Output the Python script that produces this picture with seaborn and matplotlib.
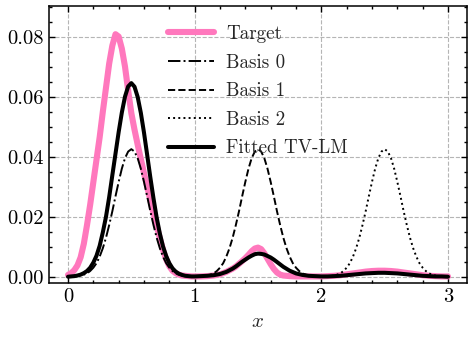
import numpy as np
import pandas as pd
import matplotlib
matplotlib.use("Agg")
import matplotlib.pyplot as plt
import seaborn as sns

# x positions where the target and fitted curves were read
x_vals = [0.000, 0.025, 0.050, 0.075, 0.100, 0.125, 0.150, 0.175, 0.200, 0.225,
          0.250, 0.275, 0.300, 0.325, 0.350, 0.375, 0.400, 0.425, 0.450, 0.475,
          0.500, 0.525, 0.550, 0.575, 0.600, 0.625, 0.650, 0.675, 0.700, 0.725,
          0.750, 0.775, 0.800, 0.825, 0.850, 0.875, 0.900, 0.925, 0.950, 0.975,
          1.000, 1.050, 1.100, 1.150, 1.200, 1.250, 1.300,
          1.325, 1.350, 1.375, 1.400, 1.425, 1.450, 1.475, 1.500, 1.525, 1.550,
          1.575, 1.600, 1.625, 1.650, 1.675,
          1.700, 1.750, 1.800, 1.850, 1.900, 1.950, 2.000, 2.050, 2.100, 2.150,
          2.200, 2.250, 2.300, 2.350, 2.400, 2.450, 2.500, 2.550, 2.600, 2.650,
          2.700, 2.750, 2.800, 2.850, 2.900, 2.950, 3.000]

target = [0.0006, 0.0012, 0.0022, 0.0038, 0.0065, 0.0110, 0.0172, 0.0240, 0.0315, 0.0390,
          0.0465, 0.0550, 0.0630, 0.0710, 0.0770, 0.0808, 0.0800, 0.0760, 0.0700, 0.0620,
          0.0545, 0.0490, 0.0440, 0.0392, 0.0345, 0.0300, 0.0255, 0.0212, 0.0170, 0.0128,
          0.0090, 0.0058, 0.0035, 0.0020, 0.0012, 0.0007, 0.0004, 0.0003, 0.0002, 0.0001,
          0.0001, 0.0001, 0.0002, 0.0004, 0.0008, 0.0016, 0.0027,
          0.0034, 0.0043, 0.0052, 0.0062, 0.0073, 0.0085, 0.0094, 0.0097, 0.0092, 0.0078,
          0.0060, 0.0042, 0.0026, 0.0014, 0.0007,
          0.0004, 0.0002, 0.0001, 0.0001, 0.0001, 0.0001, 0.0001, 0.0002, 0.0003, 0.0005,
          0.0008, 0.0011, 0.0014, 0.0017, 0.0019, 0.0020, 0.0020, 0.0019, 0.0017, 0.0014,
          0.0011, 0.0008, 0.0005, 0.0003, 0.0002, 0.0001, 0.0001]

fitted = [0.0000, 0.0001, 0.0002, 0.0004, 0.0007, 0.0012, 0.0019, 0.0030, 0.0047, 0.0070,
          0.0103, 0.0148, 0.0200, 0.0265, 0.0338, 0.0410, 0.0482, 0.0547, 0.0600, 0.0634,
          0.0645, 0.0633, 0.0599, 0.0546, 0.0480, 0.0406, 0.0331, 0.0261, 0.0197, 0.0144,
          0.0101, 0.0069, 0.0045, 0.0028, 0.0017, 0.0010, 0.0006, 0.0003, 0.0002, 0.0001,
          0.0001, 0.0002, 0.0003, 0.0005, 0.0009, 0.0016, 0.0027,
          0.0034, 0.0042, 0.0050, 0.0057, 0.0064, 0.0070, 0.0075, 0.0077, 0.0076, 0.0074,
          0.0069, 0.0064, 0.0057, 0.0049, 0.0041,
          0.0033, 0.0020, 0.0011, 0.0006, 0.0003, 0.0002, 0.0001, 0.0001, 0.0002, 0.0003,
          0.0005, 0.0007, 0.0009, 0.0011, 0.0012, 0.0013, 0.0013, 0.0012, 0.0011, 0.0009,
          0.0007, 0.0005, 0.0003, 0.0002, 0.0001, 0.0001, 0.0000]

# basis functions, each read over its own unit interval
basis0_x = [0.000, 0.025, 0.050, 0.075, 0.100, 0.125, 0.150, 0.175, 0.200, 0.225,
            0.250, 0.275, 0.300, 0.325, 0.350, 0.375, 0.400, 0.425, 0.450, 0.475,
            0.500, 0.525, 0.550, 0.575, 0.600, 0.625, 0.650, 0.675, 0.700, 0.725,
            0.750, 0.775, 0.800, 0.825, 0.850, 0.875, 0.900, 0.925, 0.950, 0.975,
            1.000]
basis1_x = [1.000, 1.025, 1.050, 1.075, 1.100, 1.125, 1.150, 1.175, 1.200, 1.225,
            1.250, 1.275, 1.300, 1.325, 1.350, 1.375, 1.400, 1.425, 1.450, 1.475,
            1.500, 1.525, 1.550, 1.575, 1.600, 1.625, 1.650, 1.675, 1.700, 1.725,
            1.750, 1.775, 1.800, 1.825, 1.850, 1.875, 1.900, 1.925, 1.950, 1.975,
            2.000]
basis2_x = [2.000, 2.025, 2.050, 2.075, 2.100, 2.125, 2.150, 2.175, 2.200, 2.225,
            2.250, 2.275, 2.300, 2.325, 2.350, 2.375, 2.400, 2.425, 2.450, 2.475,
            2.500, 2.525, 2.550, 2.575, 2.600, 2.625, 2.650, 2.675, 2.700, 2.725,
            2.750, 2.775, 2.800, 2.825, 2.850, 2.875, 2.900, 2.925, 2.950, 2.975,
            3.000]
basis0 = [0.0000, 0.0000, 0.0001, 0.0002, 0.0004, 0.0007, 0.0011, 0.0019, 0.0030, 0.0045,
          0.0067, 0.0095, 0.0130, 0.0172, 0.0218, 0.0268, 0.0316, 0.0360, 0.0395, 0.0417,
          0.0425, 0.0417, 0.0395, 0.0360, 0.0316, 0.0268, 0.0218, 0.0172, 0.0130, 0.0095,
          0.0067, 0.0045, 0.0030, 0.0019, 0.0011, 0.0007, 0.0004, 0.0002, 0.0001, 0.0000,
          0.0000]
basis1 = [0.0000, 0.0000, 0.0001, 0.0002, 0.0004, 0.0007, 0.0011, 0.0019, 0.0030, 0.0045,
          0.0067, 0.0095, 0.0130, 0.0172, 0.0218, 0.0268, 0.0316, 0.0360, 0.0395, 0.0417,
          0.0425, 0.0417, 0.0395, 0.0360, 0.0316, 0.0268, 0.0218, 0.0172, 0.0130, 0.0095,
          0.0067, 0.0045, 0.0030, 0.0019, 0.0011, 0.0007, 0.0004, 0.0002, 0.0001, 0.0000,
          0.0000]
basis2 = [0.0000, 0.0000, 0.0001, 0.0002, 0.0004, 0.0007, 0.0011, 0.0019, 0.0030, 0.0045,
          0.0067, 0.0095, 0.0130, 0.0172, 0.0218, 0.0268, 0.0316, 0.0360, 0.0395, 0.0417,
          0.0425, 0.0417, 0.0395, 0.0360, 0.0316, 0.0268, 0.0218, 0.0172, 0.0130, 0.0095,
          0.0067, 0.0045, 0.0030, 0.0019, 0.0011, 0.0007, 0.0004, 0.0002, 0.0001, 0.0000,
          0.0000]

labels = ["Target", "Basis 0", "Basis 1", "Basis 2", "Fitted TV-LM"]
y_ticks = [0.00, 0.02, 0.04, 0.06, 0.08]
y_tick_labels = ["0.00", "0.02", "0.04", "0.06", "0.08"]
x_ticks = [0, 1, 2, 3]
x_tick_labels = ["0", "1", "2", "3"]

sns.set_style("ticks")
plt.rcParams["font.family"] = ["cmr10", "DejaVu Serif"]
plt.rcParams["mathtext.fontset"] = "cm"
plt.rcParams["axes.formatter.use_mathtext"] = True
plt.rcParams["axes.unicode_minus"] = False

fig = plt.figure(figsize=(4.73, 3.40), dpi=100)
ax = fig.add_axes([0.1036, 0.1676, 0.8837, 0.8148])

series = {
    "Target": (x_vals, target),
    "Basis 0": (basis0_x, basis0),
    "Basis 1": (basis1_x, basis1),
    "Basis 2": (basis2_x, basis2),
    "Fitted TV-LM": (x_vals, fitted),
}
styles = {
    "Target": dict(color="#ff78bd", lw=4.4, ls="-"),
    "Basis 0": dict(color="black", lw=1.4, ls="-."),
    "Basis 1": dict(color="black", lw=1.4, ls="--"),
    "Basis 2": dict(color="black", lw=1.4, ls=":"),
    "Fitted TV-LM": dict(color="black", lw=2.9, ls="-"),
}
for name in labels:
    xs, ys = series[name]
    d = pd.DataFrame({"x": xs, "y": ys})
    st = styles[name]
    sns.lineplot(data=d, x="x", y="y", ax=ax, label=name, color=st["color"],
                 linewidth=st["lw"], linestyle=st["ls"], sort=False, zorder=3)

ax.set_xlim(-0.15, 3.15)
ax.set_ylim(-0.0021, 0.0902)
ax.set_xticks(x_ticks)
ax.set_xticklabels(x_tick_labels)
ax.set_yticks(y_ticks)
ax.set_yticklabels(y_tick_labels)
ax.xaxis.set_minor_locator(matplotlib.ticker.MultipleLocator(0.2))
ax.yaxis.set_minor_locator(matplotlib.ticker.MultipleLocator(0.005))
ax.tick_params(which="both", direction="in", top=True, right=True, width=1.0,
               labelsize=14.8, colors="black")
ax.tick_params(which="major", length=4.2)
ax.tick_params(which="minor", length=2.4)
for s in ax.spines.values():
    s.set_linewidth(1.1)
    s.set_color("black")
ax.grid(True, which="major", ls="--", color="#b5b5b5", lw=0.8, zorder=0)
ax.set_axisbelow(True)
ax.set_xlabel("$x$", fontsize=15, labelpad=5)
ax.set_ylabel("")

leg = ax.legend(loc="upper center", frameon=False, fontsize=13.7,
                handlelength=2.4, handletextpad=0.65, labelspacing=0.56,
                borderaxespad=0.6)

fig.savefig("out.png", dpi=100)
